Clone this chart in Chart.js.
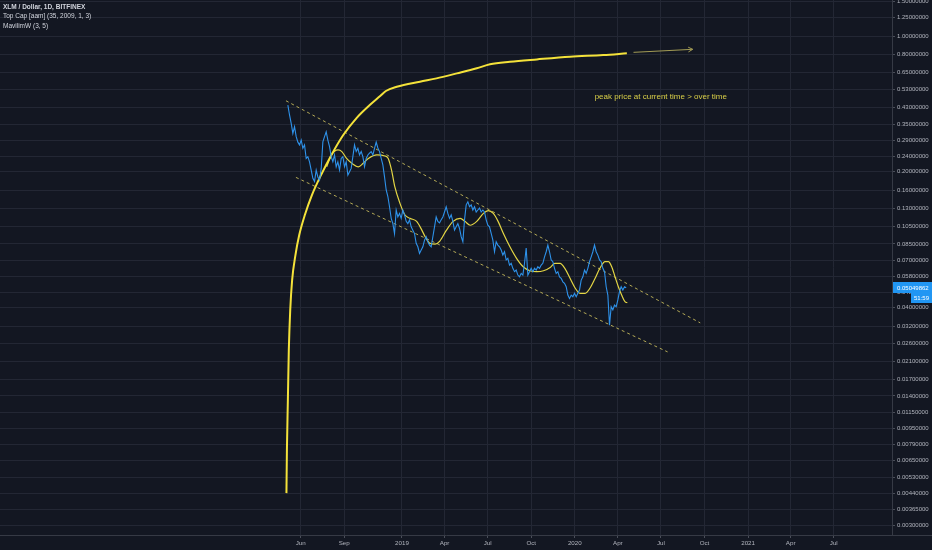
<!DOCTYPE html>
<html>
<head>
<meta charset="utf-8">
<title>XLM / Dollar, 1D, BITFINEX</title>
<script src="https://cdn.jsdelivr.net/npm/chart.js@4.4.1/dist/chart.umd.min.js"></script>
<style>
  html, body { margin: 0; padding: 0; background: #131722; overflow: hidden; }
</style>
</head>
<body>
<canvas id="chart" width="932" height="550"></canvas>
<script>
// axis ticks
const xTickDates = ['2018-06-01', '2018-09-01', '2019-01-01', '2019-04-01', '2019-07-01', '2019-10-01',
  '2020-01-01', '2020-04-01', '2020-07-01', '2020-10-01', '2021-01-01', '2021-04-01', '2021-07-01'];
const xTickLabels = ['Jun', 'Sep', '2019', 'Apr', 'Jul', 'Oct', '2020', 'Apr', 'Jul', 'Oct', '2021', 'Apr', 'Jul'];
const yTickValues = [1.5, 1.25, 1.0, 0.8, 0.65, 0.53, 0.43, 0.35, 0.29, 0.24, 0.2, 0.16, 0.13, 0.105, 0.085,
  0.07, 0.058, 0.048, 0.04, 0.032, 0.026, 0.021, 0.017, 0.014, 0.0115, 0.0095, 0.0079, 0.0065, 0.0053,
  0.0044, 0.00365, 0.003];

// XLM close, sampled every ~3.5 days
const priceStart = '2018-05-05';
const priceStepDays = 3.52;
const priceValues = [
  0.441, 0.392, 0.355, 0.315, 0.341, 0.303, 0.284, 0.275, 0.291, 0.264,
  0.275, 0.234, 0.239, 0.225, 0.204, 0.185, 0.178, 0.204, 0.188, 0.181,
  0.208, 0.285, 0.303, 0.321, 0.291, 0.269, 0.239, 0.225, 0.244, 0.212,
  0.225, 0.204, 0.234, 0.239, 0.212, 0.225, 0.192, 0.200, 0.208, 0.239,
  0.275, 0.254, 0.264, 0.244, 0.254, 0.239, 0.212, 0.234, 0.244, 0.249,
  0.254, 0.244, 0.264, 0.284, 0.265, 0.254, 0.234, 0.217, 0.188, 0.161,
  0.149, 0.132, 0.115, 0.108, 0.096, 0.127, 0.117, 0.122, 0.115, 0.127,
  0.120, 0.111, 0.108, 0.113, 0.104, 0.100, 0.096, 0.0855, 0.0821, 0.0759,
  0.0790, 0.0821, 0.0889, 0.0925, 0.0872, 0.0838, 0.0821, 0.0925, 0.104, 0.117,
  0.111, 0.109, 0.113, 0.117, 0.124, 0.132, 0.122, 0.115, 0.120, 0.111,
  0.100, 0.104, 0.108, 0.102, 0.0925, 0.0872, 0.113, 0.135, 0.140, 0.132,
  0.135, 0.127, 0.132, 0.124, 0.127, 0.130, 0.124, 0.127, 0.124, 0.113,
  0.106, 0.104, 0.0963, 0.0889, 0.0774, 0.0872, 0.0838, 0.0821, 0.0790, 0.0744,
  0.0774, 0.0702, 0.0716, 0.0661, 0.0675, 0.0636, 0.0611, 0.0623, 0.0587, 0.0575,
  0.0599, 0.0587, 0.0675, 0.0809, 0.0587, 0.0611, 0.0636, 0.0611, 0.0636, 0.0623,
  0.0648, 0.0636, 0.0661, 0.0675, 0.0729, 0.0774, 0.0838, 0.0774, 0.0702, 0.0688,
  0.0636, 0.0599, 0.0611, 0.0575, 0.0565, 0.0542, 0.0532, 0.0511, 0.0463, 0.0445,
  0.0463, 0.0454, 0.0473, 0.0454, 0.0473, 0.0492, 0.0553, 0.0575, 0.0623, 0.0599,
  0.0636, 0.0688, 0.0729, 0.0774, 0.0838, 0.0774, 0.0744, 0.0702, 0.0688, 0.0636,
  0.0611, 0.0511, 0.0463, 0.0324, 0.0403, 0.0388, 0.0411, 0.0403, 0.0437, 0.0482,
  0.0511, 0.0492, 0.0511, 0.05049862
];

// Top Cap [aam]
const topCapDates = ['2018-05-02', '2018-05-03', '2018-05-05', '2018-05-07', '2018-05-10', '2018-05-14',
  '2018-05-21', '2018-05-29', '2018-06-10', '2018-06-25', '2018-07-14', '2018-08-05', '2018-08-30',
  '2018-09-27', '2018-10-25', '2018-11-16', '2018-11-28', '2018-12-21', '2019-02-08',
  '2019-03-15', '2019-04-27', '2019-06-08', '2019-07-06', '2019-08-17', '2019-10-13', '2019-12-22',
  '2020-03-01', '2020-04-20'];
const topCapValues = [0.00442, 0.00737, 0.0133, 0.0241, 0.0388, 0.0553, 0.0744, 0.0944, 0.120, 0.152,
  0.192, 0.244, 0.309, 0.378, 0.441, 0.491, 0.521, 0.548, 0.582, 0.605, 0.642, 0.682, 0.715,
  0.737, 0.758, 0.782, 0.798, 0.815];

// MavilimW (3, 5)
const mavDates = ['2018-07-26', '2018-08-05', '2018-08-19', '2018-08-27', '2018-09-06', '2018-09-17',
  '2018-10-01', '2018-10-11', '2018-10-22', '2018-11-09', '2018-11-26', '2018-12-03', '2018-12-10',
  '2018-12-17', '2018-12-28', '2019-01-07', '2019-01-18', '2019-02-01', '2019-02-12', '2019-02-19',
  '2019-03-01', '2019-03-12', '2019-03-22', '2019-04-05', '2019-04-19', '2019-05-04', '2019-05-14',
  '2019-05-25', '2019-06-08', '2019-06-22', '2019-07-02', '2019-07-13', '2019-07-23', '2019-08-03',
  '2019-08-17', '2019-08-31', '2019-09-14', '2019-09-28', '2019-10-13', '2019-10-27', '2019-11-10',
  '2019-11-20', '2019-12-01', '2019-12-11', '2019-12-22', '2020-01-02', '2020-01-12', '2020-01-23',
  '2020-02-02', '2020-02-13', '2020-02-23', '2020-03-05', '2020-03-12', '2020-03-19', '2020-03-26',
  '2020-04-02', '2020-04-09', '2020-04-16', '2020-04-21'];
const mavValues = [0.212, 0.244, 0.259, 0.254, 0.234, 0.221, 0.212, 0.221, 0.234, 0.244,
  0.241, 0.234, 0.204, 0.167, 0.137, 0.120, 0.115, 0.111, 0.100, 0.0925,
  0.0855, 0.0848, 0.0879, 0.100, 0.111, 0.115, 0.111, 0.106, 0.111, 0.122,
  0.126, 0.122, 0.111, 0.0963, 0.0821, 0.0716, 0.0648, 0.0618, 0.0611, 0.0618,
  0.0643, 0.0675, 0.0675, 0.0636, 0.0565, 0.0502, 0.0473, 0.0473, 0.0502, 0.0565,
  0.0636, 0.0688, 0.0688, 0.0648, 0.0575, 0.0511, 0.0463, 0.0428, 0.0423];

// channel trend lines + arrow
const upperDates = ['2018-05-01', '2020-09-22'];
const upperValues = [0.464, 0.0333];
const lowerDates = ['2018-05-22', '2020-07-15'];
const lowerValues = [0.187, 0.0236];
const arrowDates = ['2020-05-04', '2020-09-06'];
const arrowValues = [0.824, 0.854];

const noteText = 'peak price at current time > over time';
const noteDate = '2020-02-12';
const noteValue = 0.485;

const legendLines = ['XLM / Dollar, 1D, BITFINEX', 'Top Cap [aam] (35, 2009, 1, 3)', 'MavilimW (3, 5)'];
const countdown = '51:59';

const DAY = 86400000;
const FONT = '"Liberation Sans", Arial, sans-serif';

const toPts = (dates, vals) => dates.map((d, i) => ({ x: Date.parse(d), y: vals[i] }));
const priceT0 = Date.parse(priceStart);
const pricePts = priceValues.map((v, i) => ({ x: priceT0 + i * priceStepDays * DAY, y: v }));

const bgPlugin = {
  id: 'bg',
  beforeDraw(chart) {
    const c = chart.ctx;
    c.save();
    c.fillStyle = '#131722';
    c.fillRect(0, 0, chart.width, chart.height);
    c.restore();
  }
};

const overlayPlugin = {
  id: 'overlay',
  afterDraw(chart) {
    const c = chart.ctx;
    const xs = chart.scales.x, ys = chart.scales.y;
    const area = chart.chartArea;
    c.save();

    // bottom border continues under price axis
    c.strokeStyle = '#363a45';
    c.lineWidth = 1;
    c.beginPath();
    c.moveTo(area.right, area.bottom + 0.5);
    c.lineTo(chart.width, area.bottom + 0.5);
    c.stroke();

    // arrow head
    const pts = chart.getDatasetMeta(5).data;
    const a = pts[0], b = pts[1];
    const ang = Math.atan2(b.y - a.y, b.x - a.x);
    c.strokeStyle = '#a39c55';
    c.beginPath();
    c.moveTo(b.x - 5 * Math.cos(ang - 0.5), b.y - 5 * Math.sin(ang - 0.5));
    c.lineTo(b.x, b.y);
    c.lineTo(b.x - 5 * Math.cos(ang + 0.5), b.y - 5 * Math.sin(ang + 0.5));
    c.stroke();

    // note
    c.font = '8px ' + FONT;
    c.fillStyle = '#d9cf48';
    c.textBaseline = 'middle';
    c.textAlign = 'left';
    c.fillText(noteText, xs.getPixelForValue(Date.parse(noteDate)), ys.getPixelForValue(noteValue));

    // legend
    c.fillStyle = '#d1d4dc';
    legendLines.forEach((t, i) => {
      c.font = (i === 0 ? 'bold ' : '') + '6.5px ' + FONT;
      c.fillText(t, 3, 7 + i * 9.5);
    });

    // last price tag
    const last = priceValues[priceValues.length - 1];
    const py = Math.round(ys.getPixelForValue(last));
    c.fillStyle = '#2196f3';
    c.fillRect(area.right + 1, py - 6, chart.width - area.right - 1, 11);
    c.fillRect(area.right + 19, py + 5, chart.width - area.right - 19, 10);
    c.fillStyle = '#ffffff';
    c.font = '6px ' + FONT;
    c.fillText(last.toFixed(8), area.right + 5, py);
    c.textAlign = 'right';
    c.fillText(countdown, chart.width - 3, py + 10);
    c.restore();
  }
};

new Chart(document.getElementById('chart'), {
  type: 'line',
  data: {
    datasets: [
      { label: 'XLM', data: pricePts, borderColor: '#2e92ea', borderWidth: 1.1, pointRadius: 0, tension: 0 },
      { label: 'Top Cap', data: toPts(topCapDates, topCapValues), borderColor: '#f4e23a', borderWidth: 2,
        pointRadius: 0, cubicInterpolationMode: 'monotone' },
      { label: 'MavilimW', data: toPts(mavDates, mavValues), borderColor: '#e3d544', borderWidth: 1.2,
        pointRadius: 0, cubicInterpolationMode: 'monotone' },
      { label: 'upper', data: toPts(upperDates, upperValues), borderColor: '#b3a956', borderWidth: 1,
        borderDash: [3, 3], pointRadius: 0 },
      { label: 'lower', data: toPts(lowerDates, lowerValues), borderColor: '#b3a956', borderWidth: 1,
        borderDash: [3, 3], pointRadius: 0 },
      { label: 'arrow', data: toPts(arrowDates, arrowValues), borderColor: '#a39c55', borderWidth: 1,
        pointRadius: 0 }
    ]
  },
  options: {
    responsive: false,
    animation: false,
    events: [],
    layout: { padding: 0 },
    plugins: { legend: { display: false }, tooltip: { enabled: false } },
    scales: {
      x: {
        type: 'linear',
        min: Date.parse('2016-09-04'),
        max: Date.parse('2021-11-01'),
        afterBuildTicks: s => { s.ticks = xTickDates.map(d => ({ value: Date.parse(d) })); },
        afterFit: s => { s.height = 15; s.paddingLeft = 0; s.paddingRight = 0; },
        ticks: {
          autoSkip: false, maxRotation: 0, padding: 2,
          color: '#b2b5be', font: { family: FONT, size: 6.2 },
          callback: (v, i) => xTickLabels[i]
        },
        grid: { color: '#232734', tickColor: '#4a4e59', tickLength: 3 },
        border: { color: '#363a45' }
      },
      y: {
        type: 'logarithmic',
        position: 'right',
        min: 0.00269,
        max: 1.533,
        afterBuildTicks: s => { s.ticks = yTickValues.map(v => ({ value: v })); },
        afterFit: s => { s.width = 40; s.paddingTop = 0; s.paddingBottom = 0; },
        ticks: {
          autoSkip: false, padding: 2,
          color: '#b2b5be', font: { family: FONT, size: 6 },
          callback: v => Number(v).toFixed(8)
        },
        grid: { color: '#232734', tickColor: '#4a4e59', tickLength: 3 },
        border: { color: '#363a45' }
      }
    }
  },
  plugins: [bgPlugin, overlayPlugin]
});
</script>
</body>
</html>
